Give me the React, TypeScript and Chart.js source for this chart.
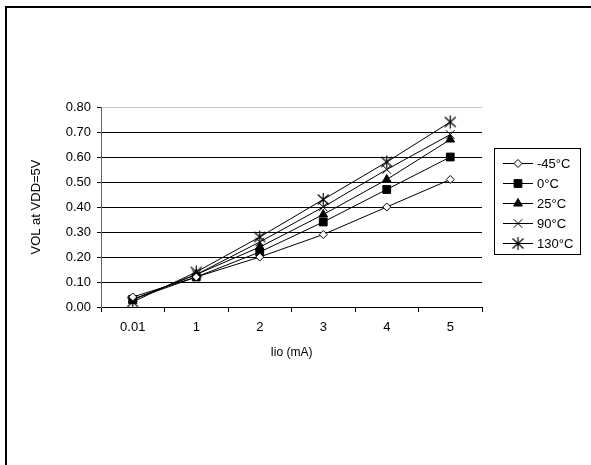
import React, { useEffect, useRef } from 'react';
import { Chart, registerables } from 'chart.js';
import { drawPoint } from 'chart.js/helpers';

Chart.register(...registerables);

const categories = ['0.01', '1', '2', '3', '4', '5'];
const seriesNames = ['-45°C', '0°C', '25°C', '90°C', '130°C'];
const valsM45 = [0.04, 0.12, 0.2, 0.29, 0.4, 0.51];
const vals0 = [0.03, 0.12, 0.22, 0.34, 0.47, 0.6];
const vals25 = [0.03, 0.13, 0.24, 0.37, 0.51, 0.67];
const vals90 = [0.03, 0.13, 0.26, 0.4, 0.55, 0.69];
const vals130 = [0.02, 0.14, 0.28, 0.43, 0.58, 0.74];
const yTicks = [0, 0.1, 0.2, 0.3, 0.4, 0.5, 0.6, 0.7, 0.8];

const FONT = "'Liberation Sans', Arial, sans-serif";

function makeAsterisk(): HTMLCanvasElement {
  const c = document.createElement('canvas');
  c.width = 15;
  c.height = 15;
  const g = c.getContext('2d')!;
  g.strokeStyle = '#000';
  g.lineWidth = 1.2;
  g.beginPath();
  g.moveTo(7.5, 1); g.lineTo(7.5, 14);
  g.moveTo(2, 2.5); g.lineTo(13, 12.5);
  g.moveTo(13, 2.5); g.lineTo(2, 12.5);
  g.stroke();
  return c;
}

const legendPlugin = {
  id: 'boxLegend',
  afterDraw(chart: any) {
    const { ctx, chartArea } = chart;
    const left = chartArea.right + 12;
    const top = chartArea.top + 41;
    const w = 86;
    const h = 106;
    ctx.save();
    ctx.strokeStyle = '#000';
    ctx.lineWidth = 1;
    ctx.strokeRect(left + 0.5, top + 0.5, w, h);
    chart.data.datasets.forEach((ds: any, i: number) => {
      const y = top + 15 + i * 20;
      ctx.strokeStyle = '#000';
      ctx.lineWidth = 1;
      ctx.beginPath();
      ctx.moveTo(left + 9, y + 0.5);
      ctx.lineTo(left + 39, y + 0.5);
      ctx.stroke();
      ctx.fillStyle = ds.pointBackgroundColor;
      ctx.strokeStyle = '#000';
      drawPoint(ctx, {
        pointStyle: ds.pointStyle,
        radius: ds.pointRadius,
        borderWidth: 1,
        rotation: 0,
      }, left + 24, y + 0.5);
      ctx.fillStyle = '#000';
      ctx.font = `13px ${FONT}`;
      ctx.textBaseline = 'middle';
      ctx.textAlign = 'left';
      ctx.fillText(ds.label, left + 43, y + 1);
    });
    ctx.restore();
  },
};

export default function App() {
  const ref = useRef<HTMLCanvasElement | null>(null);
  useEffect(() => {
    if (!ref.current) return;
    const asterisk = makeAsterisk();
    const styles: any[] = [
      { pointStyle: 'rectRot', pointRadius: 4, bg: '#fff' },
      { pointStyle: 'rect', pointRadius: 5.5, bg: '#000' },
      { pointStyle: 'triangle', pointRadius: 5, bg: '#000' },
      { pointStyle: 'crossRot', pointRadius: 6, bg: '#000' },
      { pointStyle: asterisk, pointRadius: 7, bg: '#000' },
    ];
    const allVals = [valsM45, vals0, vals25, vals90, vals130];
    const chart = new Chart(ref.current, {
      type: 'line',
      data: {
        labels: categories,
        datasets: allVals.map((vals, i) => ({
          label: seriesNames[i],
          data: vals,
          borderColor: '#000',
          borderWidth: 1,
          pointStyle: styles[i].pointStyle,
          pointRadius: styles[i].pointRadius,
          pointBackgroundColor: styles[i].bg,
          pointBorderColor: '#000',
          pointBorderWidth: 1,
          fill: false,
          tension: 0,
        })),
      },
      options: {
        animation: false,
        responsive: false,
        devicePixelRatio: 1,
        layout: { padding: { left: 0, top: 107, right: 109, bottom: 0 } },
        plugins: { legend: { display: false }, tooltip: { enabled: false } },
        scales: {
          x: {
            offset: true,
            grid: {
              offset: true,
              drawOnChartArea: false,
              drawTicks: true,
              tickLength: 5,
              tickColor: '#000',
            },
            border: { color: '#000', width: 1 },
            ticks: { color: '#000', font: { family: FONT, size: 13 }, padding: 8 },
            title: {
              display: true,
              text: 'Iio (mA)',
              color: '#000',
              font: { family: FONT, size: 12 },
              padding: { top: 0, bottom: 105 },
            },
            afterFit(scale: any) { scale.height = 158; },
          },
          y: {
            min: 0,
            max: 0.8,
            afterBuildTicks(scale: any) { scale.ticks = yTicks.map((v) => ({ value: v })); },
            grid: {
              color: (c: any) => (Math.abs(c.tick.value - 0.8) < 1e-6 ? '#c8c8c8' : '#000'),
              tickColor: '#000',
              tickLength: 4,
            },
            border: { color: '#666', width: 1 },
            ticks: {
              color: '#000',
              font: { family: FONT, size: 13 },
              padding: 6,
              callback: (v: any) => Number(v).toFixed(2),
            },
            title: {
              display: true,
              text: 'VOL at VDD=5V',
              color: '#000',
              font: { family: FONT, size: 13 },
              padding: { top: 29, bottom: 0 },
            },
            afterFit(scale: any) { scale.width = 101; },
          },
        },
      },
      plugins: [legendPlugin],
    });
    return () => chart.destroy();
  }, []);

  return (
    <div style={{ position: 'absolute', left: 0, top: 0, width: 591, height: 465, overflow: 'hidden', background: '#fff' }}>
      <div style={{ position: 'absolute', left: 5, top: 6, width: 700, height: 600, border: '2px solid #000' }} />
      <canvas ref={ref} width={591} height={465} style={{ position: 'absolute', left: 0, top: 0 }} />
    </div>
  );
}
